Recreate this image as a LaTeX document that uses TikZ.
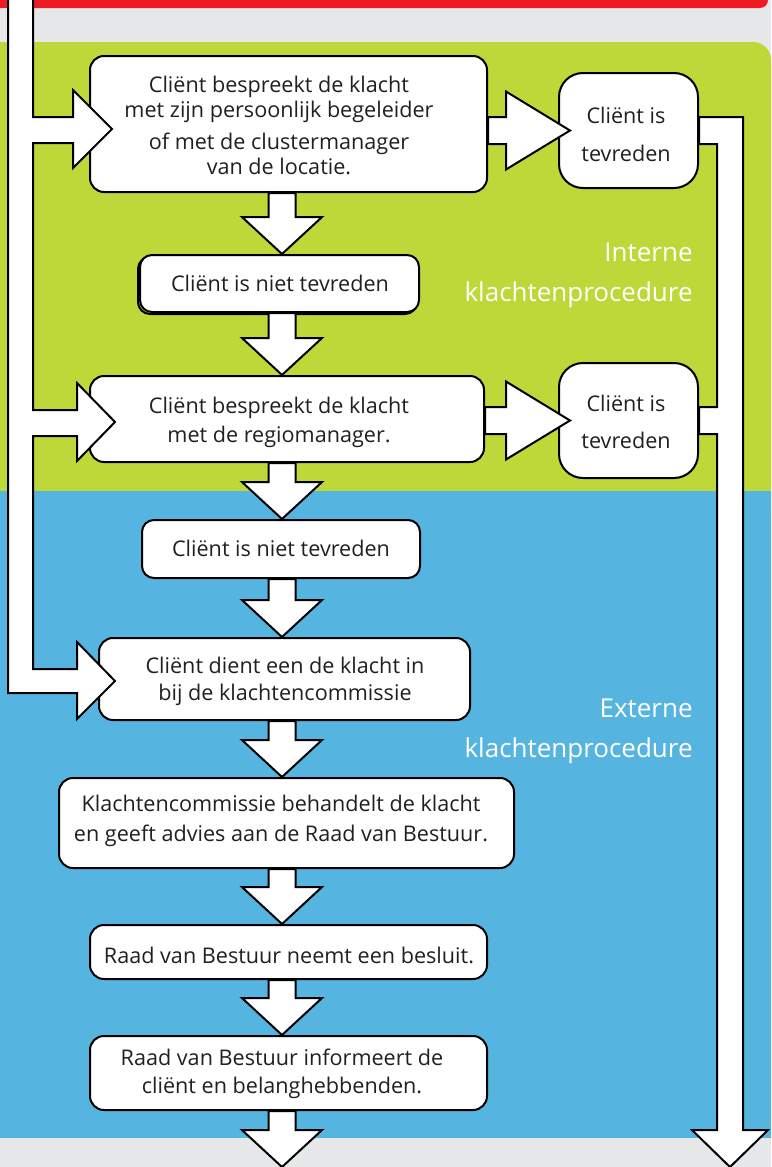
\documentclass[tikz,border=0pt]{standalone}
\usepackage{fontspec}
\setmainfont{Open Sans}
\usetikzlibrary{calc,fit}
\definecolor{bggrey}{HTML}{E6E7E8}
\definecolor{topred}{HTML}{ED1C24}
\definecolor{lime}{HTML}{BED83A}
\definecolor{sky}{HTML}{56B4E1}
\definecolor{ink}{HTML}{231F20}
\newcommand\downpipe[2]{%
  \draw[pipe] ($(#1.south -| ax)+(-13.5,0)$) -- ($(#2 -| ax)+(-13.5,-37)$) -- ++(-26.5,0)
    -- ($(#2 -| ax)$) -- ($(#2 -| ax)+(40,-37)$) -- ++(-26.5,0)
    -- ($(#1.south -| ax)+(13.5,0)$) -- cycle;}
\newcommand\rightpipe[2]{%
  \draw[pipe] ($(#1.east |- #2.west)+(0,-13.5)$) -- ($(#2.west)+(-52,-13.5)$) -- ++(0,-25.5)
    -- ($(#2.west)+(12,0)$) -- ($(#2.west)+(-52,39)$) -- ++(0,-25.5)
    -- ($(#1.east |- #2.west)+(0,13.5)$) -- cycle;}
\begin{document}
\begin{tikzpicture}[x=0.5pt,y=-0.5pt,
  box/.style={draw=black, line width=1pt, fill=white, rounded corners=7pt, inner sep=0pt},
  txt/.style={align=center, text=ink, font=\fontsize{10.8}{12.5}\selectfont},
  pipe/.style={draw=black, line width=1pt, fill=white, line join=miter},
  side/.style={align=right, anchor=east, inner sep=0pt, text=white, font=\fontsize{13}{20}\selectfont}]
\useasboundingbox (0,0) rectangle (771,1167);
\clip (0,0) rectangle (771,1167);
% background bands
\fill[bggrey] (0,0) rectangle (771,1167);
\fill[topred, rounded corners=4pt] (-30,-30) rectangle (768,8);
\fill[lime, rounded corners=9pt] (-30,42) rectangle (771,530);
\fill[sky] (-30,491) rectangle (771,1138);
% side labels
\node[side] (intl) at (693,275) {Interne\\klachtenprocedure};
\node[side] (extl) at (693,731) {Externe\\klachtenprocedure};
% boxes
\node[box, fit={(90,56)(487,192)}] (A) {};
\draw[line width=1pt, rounded corners=6pt] (138,257) rectangle (417,314);
\node[box, rounded corners=6pt, fit={(140,255)(419,312)}] (B) {};
\node[box, fit={(90,376)(484,462)}] (C) {};
\node[box, rounded corners=6pt, fit={(142,520)(420,578)}] (D) {};
\node[box, fit={(99,638)(470,720)}] (E) {};
\node[box, fit={(59,778)(514,868)}] (F) {};
\node[box, fit={(90,925)(487,979)}] (G) {};
\node[box, fit={(90,1036)(487,1110)}] (H) {};
\node[box, rounded corners=12pt, fit={(559,73)(698,188)}] (T1) {};
\node[box, rounded corners=12pt, fit={(559,363)(698,478)}] (T2) {};
% texts
\node[txt] (At) at (279,125) {Cliënt bespreekt de klacht\\met zijn persoonlijk begeleider\\[3.5pt]of met de clustermanager\\van de locatie.};
\node[txt] (Bt) at (280,283) {Cliënt is niet tevreden};
\node[txt, font=\fontsize{10.8}{14.5}\selectfont] (Ct) at (279,422) {Cliënt bespreekt de klacht\\met de regiomanager.};
\node[txt] (Dt) at (281,548) {Cliënt is niet tevreden};
\node[txt, font=\fontsize{10.8}{13.5}\selectfont] (Et) at (285,681) {Cliënt dient een de klacht in\\bij de klachtencommissie};
\node[txt, font=\fontsize{10.8}{15}\selectfont] (Ft) at (281,821) {Klachtencommissie behandelt de klacht\\en geeft advies aan de Raad van Bestuur.};
\node[txt] (Gt) at (289,955) {Raad van Bestuur neemt een besluit.};
\node[txt, font=\fontsize{10.8}{14}\selectfont] (Ht) at (282,1074) {Raad van Bestuur informeert de\\cliënt en belanghebbenden.};
\node[txt, font=\fontsize{10.8}{19}\selectfont] (T1t) at (626,134) {Cliënt is\\tevreden};
\node[txt, font=\fontsize{10.8}{18.5}\selectfont] (T2t) at (626,422) {Cliënt is\\tevreden};
% connectors
\coordinate (ax) at (282,0);
\coordinate (end) at (282,1167);
\downpipe{A}{B.north}
\downpipe{B}{C.north}
\downpipe{C}{D.north}
\downpipe{D}{E.north}
\downpipe{E}{F.north}
\downpipe{F}{G.north}
\downpipe{G}{H.north}
\downpipe{H}{end}
\rightpipe{A}{T1}
\rightpipe{C}{T2}
% left feed pipe
\draw[pipe] (8,-5) -- (8,693) -- (77,693) -- (77,719) -- ($(E.west)+(17,2)$) -- (77,642) -- (77,669)
  -- (33,669) -- (33,436) -- (77,436) -- (77,461) -- ($(C.west)+(26,3)$) -- (77,383) -- (77,410)
  -- (33,410) -- (33,143) -- (73,143) -- (73,168) -- ($(A.west)+(23,5)$) -- (73,90) -- (73,117)
  -- (33,117) -- (33,-5) -- cycle;
% right return pipe
\draw[pipe] ($(T1.east)+(0,-13.5)$) -- (743,117) -- (743,1130) -- (768,1130) -- (730,1167) -- (692,1130)
  -- (717,1130) -- (717,434) -- ($(T2.east)+(0,13.5)$) -- ($(T2.east)+(0,-13.5)$) -- (717,407)
  -- (717,144) -- ($(T1.east)+(0,13.5)$) -- cycle;
\end{tikzpicture}
\end{document}
